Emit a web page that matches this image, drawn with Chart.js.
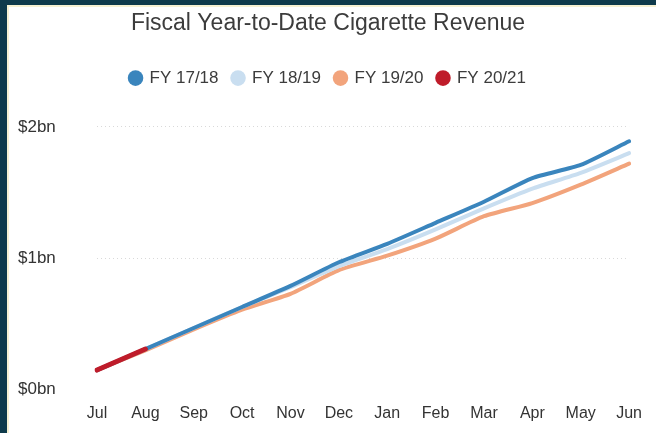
<!DOCTYPE html>
<html>
<head>
<meta charset="utf-8">
<script src="https://cdn.jsdelivr.net/npm/chart.js@4/dist/chart.umd.min.js"></script>
<style>
  html, body { margin: 0; padding: 0; background: #fff; }
  #wrap { position: relative; width: 656px; height: 433px; overflow: hidden; }
  #wrap canvas { position: absolute; left: 0; top: 0; }
  #frame {
    position: absolute; left: 0; top: 0; width: 656px; height: 433px;
    box-sizing: border-box; pointer-events: none;
    border-left: 7px solid #0e3a4b; border-top: 5px solid #0e3a4b;
  }
  #frame::after {
    content: ""; position: absolute; left: 0; top: 0; right: 0; bottom: 0;
    border-left: 2px solid #f6f1d2; border-top: 2px solid #f6f1d2;
  }
</style>
</head>
<body>
<div id="wrap">
  <canvas id="chart" width="656" height="433"></canvas>
  <div id="frame"></div>
</div>
<script>
const months = ['Jul', 'Aug', 'Sep', 'Oct', 'Nov', 'Dec', 'Jan', 'Feb', 'Mar', 'Apr', 'May', 'Jun'];
const fy1718 = [0.15, 0.31, 0.47, 0.63, 0.79, 0.97, 1.11, 1.27, 1.43, 1.61, 1.71, 1.89];
const fy1819 = [0.15, 0.31, 0.47, 0.63, 0.78, 0.94, 1.07, 1.22, 1.38, 1.53, 1.65, 1.80];
const fy1920 = [0.15, 0.30, 0.46, 0.61, 0.73, 0.91, 1.02, 1.15, 1.32, 1.42, 1.56, 1.72];
const fy2021 = [0.15, 0.31];
const yTicks = [0, 1, 2];

const font = "'Liberation Sans', Arial, sans-serif";

const ctx = document.getElementById('chart').getContext('2d');

new Chart(ctx, {
  type: 'line',
  data: {
    labels: months,
    datasets: [
      { label: 'FY 17/18', data: fy1718, borderColor: '#3a85bd', backgroundColor: '#3a85bd', order: 1 },
      { label: 'FY 18/19', data: fy1819, borderColor: '#c9def0', backgroundColor: '#c9def0', order: 2 },
      { label: 'FY 19/20', data: fy1920, borderColor: '#f2a47c', backgroundColor: '#f2a47c', order: 3 },
      { label: 'FY 20/21', data: fy2021, borderColor: '#bf1c2a', backgroundColor: '#bf1c2a', order: 0, borderWidth: 5 }
    ]
  },
  options: {
    responsive: false,
    animation: false,
    layout: { padding: { left: 18, right: 18, top: 0, bottom: -4 } },
    elements: {
      line: { borderWidth: 4, tension: 0.2, borderCapStyle: 'round', fill: false },
      point: { radius: 0 }
    },
    plugins: {
      title: {
        display: true,
        text: 'Fiscal Year-to-Date Cigarette Revenue',
        color: '#3c3c3c',
        font: { family: font, size: 23, weight: 'normal' },
        padding: { top: 10, bottom: 18 }
      },
      legend: {
        labels: {
          usePointStyle: true,
          pointStyle: 'circle',
          boxWidth: 11,
          boxHeight: 11,
          padding: 14,
          color: '#3c3c3c',
          font: { family: font, size: 17 },
          sort: (a, b) => a.datasetIndex - b.datasetIndex,
          generateLabels: chart => Chart.defaults.plugins.legend.labels.generateLabels(chart)
            .map(item => Object.assign(item, { lineWidth: 0 }))
        }
      },
      tooltip: { enabled: false }
    },
    scales: {
      x: {
        offset: false,
        grid: { display: false, drawTicks: false },
        border: { display: false },
        ticks: { color: '#333', font: { family: font, size: 16 }, padding: 14, maxRotation: 0 }
      },
      y: {
        min: 0,
        max: 2.23,
        afterBuildTicks: axis => { axis.ticks = yTicks.map(v => ({ value: v })); },
        afterFit: axis => { axis.width = 79; },
        grid: {
          drawTicks: false,
          color: c => c.tick && c.tick.value === 0 ? 'rgba(0,0,0,0)' : '#d9d9d9',
          lineWidth: 1
        },
        border: { display: false, dash: [1, 3] },
        ticks: {
          crossAlign: 'far',
          color: '#333',
          font: { family: font, size: 17 },
          callback: v => '$' + v + 'bn'
        }
      }
    }
  }
});
</script>
</body>
</html>
